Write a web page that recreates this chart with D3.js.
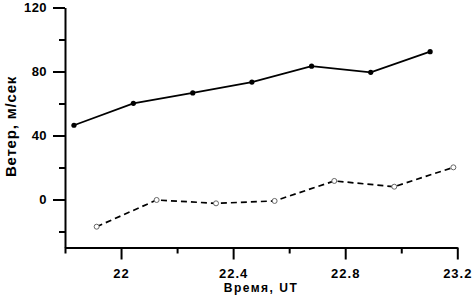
<!DOCTYPE html>
<html><head><meta charset="utf-8">
<script src="https://cdn.jsdelivr.net/npm/d3@7"></script>
<style>
html,body{margin:0;padding:0;background:#fff;}
svg{display:block;}
text{font-family:"Liberation Sans",Arial,sans-serif;font-weight:bold;fill:#000;}
</style></head>
<body>
<svg id="c" width="472" height="296"></svg>
<script>
const timeSolid = [21.832, 22.044, 22.256, 22.467, 22.680, 22.891, 23.103];
const windSolid = [46.4, 60.1, 66.6, 73.4, 83.3, 79.5, 92.4];
const timeDashed = [21.913, 22.127, 22.339, 22.548, 22.761, 22.975, 23.186];
const windDashed = [-17.0, -0.3, -2.4, -0.9, 11.6, 8.0, 20.1];
const xMajorTicks = [22, 22.4, 22.8, 23.2];
const xMinorTicks = [21.8, 22.2, 22.6, 23.0];
const yMajorTicks = [0, 40, 80, 120];
const yMinorTicks = [-20, 20, 60, 100];
const xTitle = "Время, UT";
const yTitle = "Ветер, м/сек";

const svg = d3.select("#c");
const x = d3.scaleLinear().domain([21.8, 23.2]).range([65, 457.3]);
const y = d3.scaleLinear().domain([-30, 120]).range([247.5, 7.5]);

function styleAxis(g){
  g.select(".domain").attr("stroke","#000").attr("stroke-width",2);
  g.selectAll(".tick line").attr("stroke","#000").attr("stroke-width",2);
}
// x axis
const gx = svg.append("g").attr("transform",`translate(0,${y(-30)})`)
  .call(d3.axisBottom(x).tickValues(xMajorTicks).tickSize(12).tickSizeOuter(0).tickPadding(9.5)
    .tickFormat(d=>String(d)));
styleAxis(gx);
gx.selectAll(".tick text").attr("font-size",13).style("letter-spacing","1px").attr("font-family",null);
const gxm = svg.append("g").attr("transform",`translate(0,${y(-30)})`)
  .call(d3.axisBottom(x).tickValues(xMinorTicks).tickSize(6).tickFormat(""));
styleAxis(gxm); gxm.select(".domain").remove();

// y axis
const gy = svg.append("g").attr("transform",`translate(${x(21.8)},0)`)
  .call(d3.axisLeft(y).tickValues(yMajorTicks).tickSize(12).tickSizeOuter(0).tickPadding(6));
styleAxis(gy);
gy.selectAll(".tick text").attr("font-size",13).style("letter-spacing","0.4px").attr("font-family",null);
const gym = svg.append("g").attr("transform",`translate(${x(21.8)},0)`)
  .call(d3.axisLeft(y).tickValues(yMinorTicks).tickSize(6).tickFormat(""));
styleAxis(gym); gym.select(".domain").remove();

// titles
svg.append("text").attr("x",261).attr("y",291.5).attr("text-anchor","middle")
  .attr("font-size",12).style("letter-spacing","1.5px").text(xTitle);
svg.append("text").attr("transform","translate(16,126.5) rotate(-90)").attr("text-anchor","middle")
  .attr("font-size",15).style("letter-spacing","0.8px").text(yTitle);

// lines
const solid = timeSolid.map((t,i)=>[t,windSolid[i]]);
const dashed = timeDashed.map((t,i)=>[t,windDashed[i]]);
const line = d3.line().x(d=>x(d[0])).y(d=>y(d[1]));
svg.append("path").datum(solid).attr("d",line).attr("fill","none").attr("stroke","#000").attr("stroke-width",1.8);
svg.append("path").datum(dashed).attr("d",line).attr("fill","none").attr("stroke","#000").attr("stroke-width",1.7)
  .attr("stroke-dasharray","6,4");
svg.selectAll("circle.s").data(solid).enter().append("circle").attr("class","s")
  .attr("cx",d=>x(d[0])).attr("cy",d=>y(d[1])).attr("r",2.6).attr("fill","#000");
svg.selectAll("circle.d").data(dashed).enter().append("circle").attr("class","d")
  .attr("cx",d=>x(d[0])).attr("cy",d=>y(d[1])).attr("r",2.5).attr("fill","#fff").attr("stroke","#666").attr("stroke-width",1);
</script>
</body></html>
